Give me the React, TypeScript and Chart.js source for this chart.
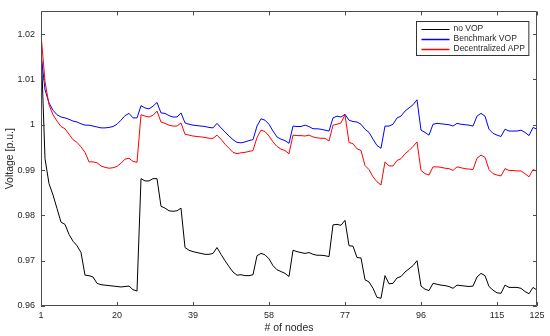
import React, { useEffect, useRef } from 'react';
import { Chart, registerables } from 'chart.js';

Chart.register(...registerables);

const NODE_COUNT = 125;
const X_TICKS = [1, 20, 39, 58, 77, 96, 115, 125];
const Y_TICKS = [0.96, 0.97, 0.98, 0.99, 1.0, 1.01, 1.02];
const Y_TICK_LABELS = ['0.96', '0.97', '0.98', '0.99', '1', '1.01', '1.02'];

const SERIES_LABELS = ['no VOP', 'Benchmark VOP', 'Decentralized APP'];
const SERIES_COLORS = ['#000000', '#0000ff', '#ff0000'];

const NO_VOP = [
  1.0180, 0.9925, 0.9870, 0.9845, 0.9815, 0.9785, 0.9780, 0.9758, 0.9743, 0.9733,
  0.9718, 0.9668, 0.9667, 0.9664, 0.9650, 0.9647, 0.9646, 0.9645, 0.9644, 0.9643,
  0.9642, 0.9643, 0.9644, 0.9636, 0.9633, 0.9881, 0.9876, 0.9876, 0.9881, 0.9881,
  0.9820, 0.9816, 0.9810, 0.9809, 0.9810, 0.9816, 0.9729, 0.9723, 0.9720, 0.9718,
  0.9716, 0.9714, 0.9714, 0.9716, 0.9729, 0.9714, 0.9700, 0.9687, 0.9675, 0.9668,
  0.9669, 0.9667, 0.9667, 0.9669, 0.9711, 0.9716, 0.9713, 0.9704, 0.9689, 0.9680,
  0.9676, 0.9672, 0.9665, 0.9723, 0.9720, 0.9718, 0.9716, 0.9718, 0.9714, 0.9712,
  0.9712, 0.9711, 0.9709, 0.9779, 0.9780, 0.9778, 0.9789, 0.9733, 0.9732, 0.9707,
  0.9706, 0.9658, 0.9653, 0.9639, 0.9619, 0.9617, 0.9667, 0.9649, 0.9650, 0.9662,
  0.9665, 0.9675, 0.9682, 0.9689, 0.9700, 0.9644, 0.9637, 0.9634, 0.9650, 0.9648,
  0.9646, 0.9645, 0.9643, 0.9639, 0.9646, 0.9645, 0.9644, 0.9643, 0.9644, 0.9664,
  0.9672, 0.9667, 0.9643, 0.9635, 0.9629, 0.9628, 0.9646, 0.9641, 0.9641, 0.9641,
  0.9639, 0.9632, 0.9627, 0.9641, 0.9635,
];

const BENCHMARK_VOP = [
  1.0157, 1.0077, 1.0048, 1.0032, 1.0022, 1.0017, 1.0015, 1.0012, 1.0008, 1.0006,
  1.0002, 0.9999, 0.9999, 0.9997, 0.9995, 0.9993, 0.9993, 0.9994, 0.9996, 1.0001,
  1.0010, 1.0020, 1.0025, 1.0015, 1.0015, 1.0042, 1.0037, 1.0035, 1.0041, 1.0049,
  1.0026, 1.0025, 1.0020, 1.0017, 1.0017, 1.0026, 1.0004, 1.0001, 0.9999, 0.9998,
  0.9997, 0.9996, 0.9994, 0.9993, 1.0003, 0.9993, 0.9984, 0.9975, 0.9967, 0.9961,
  0.9960, 0.9962, 0.9965, 0.9967, 0.9997, 1.0013, 1.0010, 1.0001, 0.9986, 0.9973,
  0.9968, 0.9965, 0.9959, 0.9997, 0.9996, 0.9996, 0.9999, 0.9996, 0.9991, 0.9991,
  0.9990, 0.9988, 0.9986, 1.0015, 1.0019, 1.0017, 1.0023, 1.0010, 1.0007, 1.0006,
  1.0001, 0.9990, 0.9983, 0.9968, 0.9954, 0.9948, 0.9997, 0.9997, 1.0001, 1.0015,
  1.0019, 1.0030, 1.0037, 1.0044, 1.0055, 0.9988, 0.9983, 0.9977, 1.0001, 1.0003,
  1.0002, 1.0001, 1.0000, 0.9997, 1.0003, 1.0001, 1.0000, 0.9999, 0.9997, 1.0019,
  1.0025, 1.0019, 0.9990, 0.9981, 0.9977, 0.9974, 0.9990, 0.9986, 0.9986, 0.9986,
  0.9988, 0.9983, 0.9976, 0.9994, 0.9990,
];

const DECENTRALIZED_APP = [
  1.0200, 1.0095, 1.0044, 1.0022, 1.0008, 0.9996, 0.9991, 0.9979, 0.9967, 0.9961,
  0.9951, 0.9939, 0.9918, 0.9918, 0.9916, 0.9909, 0.9906, 0.9904, 0.9905, 0.9908,
  0.9915, 0.9924, 0.9926, 0.9919, 0.9917, 1.0022, 1.0019, 1.0017, 1.0021, 1.0030,
  1.0006, 1.0003, 0.9999, 0.9997, 0.9997, 1.0004, 0.9979, 0.9977, 0.9975, 0.9974,
  0.9973, 0.9972, 0.9970, 0.9970, 0.9977, 0.9968, 0.9957, 0.9948, 0.9939, 0.9936,
  0.9938, 0.9939, 0.9941, 0.9943, 0.9972, 0.9988, 0.9985, 0.9975, 0.9962, 0.9952,
  0.9946, 0.9943, 0.9936, 0.9977, 0.9976, 0.9976, 0.9975, 0.9977, 0.9973, 0.9971,
  0.9970, 0.9970, 0.9964, 0.9999, 1.0001, 1.0004, 1.0022, 0.9961, 0.9958, 0.9947,
  0.9943, 0.9910, 0.9901, 0.9885, 0.9874, 0.9867, 0.9918, 0.9909, 0.9909, 0.9921,
  0.9925, 0.9936, 0.9943, 0.9952, 0.9962, 0.9899, 0.9892, 0.9889, 0.9907, 0.9907,
  0.9906, 0.9904, 0.9903, 0.9899, 0.9907, 0.9905, 0.9903, 0.9902, 0.9901, 0.9926,
  0.9933, 0.9928, 0.9901, 0.9892, 0.9889, 0.9887, 0.9903, 0.9899, 0.9899, 0.9898,
  0.9898, 0.9892, 0.9885, 0.9901, 0.9897,
];

const FONT = '"Liberation Sans", Arial, Helvetica, sans-serif';
const AXIS_COLOR = '#4d4d4d';
const TEXT_COLOR = '#262626';

const toPoints = (vals: number[]) => vals.map((v, i) => ({ x: i + 1, y: v }));

const matlabAxes = {
  id: 'matlabAxes',
  afterDatasetsDraw(chart: any) {
    const { ctx, chartArea } = chart;
    const { left, right, top, bottom } = chartArea;
    const xs = chart.scales.x;
    const ys = chart.scales.y;
    const tl = 4;
    ctx.save();
    ctx.strokeStyle = AXIS_COLOR;
    ctx.lineWidth = 1;
    ctx.beginPath();
    ctx.rect(Math.round(left) + 0.5, Math.round(top) + 0.5, Math.round(right - left) - 1, Math.round(bottom - top) - 1);
    ctx.stroke();
    ctx.beginPath();
    xs.ticks.forEach((t: any) => {
      const px = Math.round(xs.getPixelForValue(t.value)) + 0.5;
      ctx.moveTo(px, bottom);
      ctx.lineTo(px, bottom - tl);
      ctx.moveTo(px, top);
      ctx.lineTo(px, top + tl);
    });
    ys.ticks.forEach((t: any) => {
      const py = Math.round(ys.getPixelForValue(t.value)) + 0.5;
      ctx.moveTo(left, py);
      ctx.lineTo(left + tl, py);
      ctx.moveTo(right, py);
      ctx.lineTo(right - tl, py);
    });
    ctx.stroke();
    ctx.restore();
  },
};

const insideLegend = {
  id: 'insideLegend',
  afterDraw(chart: any) {
    const { ctx, chartArea } = chart;
    const datasets = chart.data.datasets;
    ctx.save();
    ctx.font = `8.5px ${FONT}`;
    let maxW = 0;
    datasets.forEach((d: any) => {
      maxW = Math.max(maxW, ctx.measureText(d.label).width);
    });
    const lineLen = 28;
    const padL = 5;
    const gap = 4;
    const padR = 4;
    const rowH = 10;
    const w = padL + lineLen + gap + maxW + padR;
    const h = rowH * datasets.length + 4;
    const x0 = Math.round(chartArea.right - 9 - w) + 0.5;
    const y0 = Math.round(chartArea.top + 10) + 0.5;
    ctx.fillStyle = '#ffffff';
    ctx.fillRect(x0, y0, w, h);
    ctx.strokeStyle = '#333333';
    ctx.lineWidth = 1;
    ctx.strokeRect(x0, y0, w, h);
    datasets.forEach((d: any, i: number) => {
      const cy = y0 + 2 + rowH * i + rowH / 2;
      ctx.strokeStyle = d.borderColor;
      ctx.lineWidth = d.label === SERIES_LABELS[0] ? 1 : 1.5;
      ctx.beginPath();
      ctx.moveTo(x0 + padL, Math.round(cy) + 0.5);
      ctx.lineTo(x0 + padL + lineLen, Math.round(cy) + 0.5);
      ctx.stroke();
      ctx.fillStyle = TEXT_COLOR;
      ctx.textAlign = 'left';
      ctx.textBaseline = 'middle';
      ctx.fillText(d.label, x0 + padL + lineLen + gap, cy);
    });
    ctx.restore();
  },
};

export default function App() {
  const ref = useRef<HTMLCanvasElement | null>(null);

  useEffect(() => {
    if (!ref.current) return;
    const seriesData = [NO_VOP, BENCHMARK_VOP, DECENTRALIZED_APP];
    const chart = new Chart(ref.current, {
      type: 'line',
      data: {
        datasets: seriesData.map((vals, i) => ({
          label: SERIES_LABELS[i],
          data: toPoints(vals.slice(0, NODE_COUNT)),
          borderColor: SERIES_COLORS[i],
          backgroundColor: SERIES_COLORS[i],
          borderWidth: 1,
          pointRadius: 0,
          tension: 0,
          fill: false,
          order: 3 - i,
        })),
      },
      options: {
        responsive: false,
        animation: false,
        events: [],
        layout: { padding: { top: 7, right: 13, left: 0, bottom: 0 } },
        plugins: {
          legend: { display: false },
          tooltip: { enabled: false },
        },
        scales: {
          x: {
            type: 'linear',
            min: 1,
            max: NODE_COUNT,
            grid: { display: false, drawTicks: false },
            border: { display: false },
            afterBuildTicks: (scale: any) => {
              scale.ticks = X_TICKS.map((v) => ({ value: v }));
            },
            afterFit: (scale: any) => {
              scale.height = 30;
            },
            ticks: {
              autoSkip: false,
              maxRotation: 0,
              padding: 4,
              color: TEXT_COLOR,
              font: { family: FONT, size: 9 },
              callback: (v: any) => String(v),
            },
            title: {
              display: true,
              text: '# of nodes',
              color: TEXT_COLOR,
              font: { family: FONT, size: 10.5 },
              padding: { top: 0, bottom: 2 },
            },
          },
          y: {
            type: 'linear',
            min: 0.96,
            max: 1.025,
            grid: { display: false, drawTicks: false },
            border: { display: false },
            afterBuildTicks: (scale: any) => {
              scale.ticks = Y_TICKS.map((v) => ({ value: v }));
            },
            afterFit: (scale: any) => {
              scale.width = 41;
            },
            ticks: {
              autoSkip: false,
              padding: 6,
              color: TEXT_COLOR,
              font: { family: FONT, size: 9 },
              callback: (v: any) => {
                const idx = Y_TICKS.findIndex((t) => Math.abs(t - v) < 1e-9);
                return idx >= 0 ? Y_TICK_LABELS[idx] : '';
              },
            },
            title: {
              display: true,
              text: 'Voltage [p.u.]',
              color: TEXT_COLOR,
              font: { family: FONT, size: 10.5 },
              padding: { top: 4, bottom: 0 },
            },
          },
        },
      },
      plugins: [matlabAxes, insideLegend],
    } as any);
    return () => chart.destroy();
  }, []);

  return (
    <div style={{ position: 'fixed', left: 0, top: 0, width: 550, height: 336, background: '#fff' }}>
      <canvas ref={ref} width={550} height={336} style={{ display: 'block' }} />
    </div>
  );
}
